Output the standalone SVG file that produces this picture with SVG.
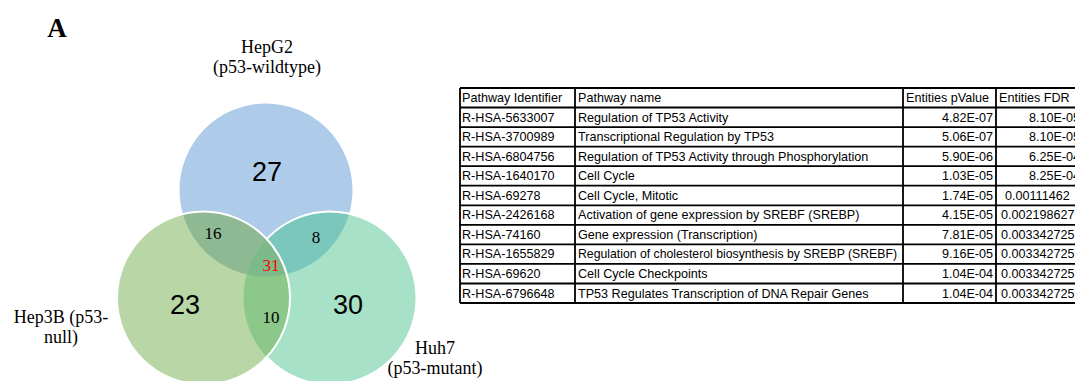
<svg xmlns="http://www.w3.org/2000/svg" width="1075" height="381" viewBox="0 0 1075 381">
<style>
.lbl{font-family:"Liberation Serif","Times New Roman",serif;font-size:18px;fill:#000;text-anchor:middle}
.big{font-family:"Liberation Sans",Arial,sans-serif;font-size:27px;fill:#000;text-anchor:middle}
.sm{font-family:"Liberation Serif","Times New Roman",serif;font-size:17px;fill:#000;text-anchor:middle}
.t{font-family:"Liberation Sans",Arial,sans-serif;font-size:12.6px;fill:#000}
.r{text-anchor:end}
.grid{stroke:#000;stroke-width:1.8;fill:none}
</style>
<defs>
<clipPath id="cB"><circle cx="266" cy="190" r="86.5"/></clipPath>
<clipPath id="cG"><circle cx="203.5" cy="298" r="86.5"/></clipPath>
<mask id="mG"><rect x="0" y="0" width="1075" height="381" fill="#fff"/><circle cx="203.5" cy="298" r="86.5" fill="#000"/></mask>
</defs>
<rect width="1075" height="381" fill="#fff"/>
<text x="57" y="37" style="font-family:'Liberation Serif','Times New Roman',serif;font-size:27px;font-weight:bold;text-anchor:middle">A</text>
<g id="venn">
<circle cx="266" cy="190" r="86.5" fill="#aecce9"/>
<circle cx="330" cy="298" r="86.5" fill="#a6e1c8"/>
<circle cx="203.5" cy="298" r="86.5" fill="#b8d6a6"/>
<g clip-path="url(#cB)"><circle cx="203.5" cy="298" r="86.5" fill="#8fb993"/><circle cx="330" cy="298" r="86.5" fill="#7cc7bc"/></g>
<g clip-path="url(#cG)"><circle cx="330" cy="298" r="86.5" fill="#8cc88a"/></g>
<g clip-path="url(#cG)"><g clip-path="url(#cB)"><circle cx="330" cy="298" r="86.5" fill="#7dba8a"/></g></g>
<circle cx="330" cy="298" r="86.5" fill="none" stroke="#fff" stroke-width="2" mask="url(#mG)"/>
<circle cx="203.5" cy="298" r="86.5" fill="none" stroke="#fff" stroke-width="2"/>
</g>
<g id="venn-counts">
<text class="big" x="267" y="181">27</text>
<text class="big" x="185" y="314">23</text>
<text class="big" x="348" y="314">30</text>
<text class="sm" x="213" y="239">16</text>
<text class="sm" x="316" y="243">8</text>
<text class="sm" x="271" y="271" style="fill:#ff0000">31</text>
<text class="sm" x="271" y="323">10</text>
</g>
<g id="label-hepg2"><text class="lbl" x="267" y="53">HepG2</text><text class="lbl" x="267" y="73">(p53-wildtype)</text></g>
<g id="label-hep3b"><text class="lbl" x="61" y="323">Hep3B (p53-</text><text class="lbl" x="61" y="343">null)</text></g>
<g id="label-huh7"><text class="lbl" x="435" y="354">Huh7</text><text class="lbl" x="435" y="374">(p53-mutant)</text></g>
<g id="table">
<path class="grid" d="M460 88H1090M460 107.5H1090M460 127.1H1090M460 146.6H1090M460 166.2H1090M460 185.7H1090M460 205.3H1090M460 224.8H1090M460 244.4H1090M460 263.9H1090M460 283.5H1090M460 303H1090M460 88V303M575 88V303M903 88V303M996 88V303"/>
<g class="t">
<text x="462" y="102">Pathway Identifier</text><text x="578" y="102">Pathway name</text><text x="906" y="102">Entities pValue</text><text x="999" y="102">Entities FDR</text>
<text x="462" y="121.6">R-HSA-5633007</text><text x="578" y="121.6">Regulation of TP53 Activity</text><text class="r" x="993" y="121.6">4.82E-07</text><text class="r" x="1080" y="121.6">8.10E-05</text>
<text x="462" y="141.1">R-HSA-3700989</text><text x="578" y="141.1">Transcriptional Regulation by TP53</text><text class="r" x="993" y="141.1">5.06E-07</text><text class="r" x="1080" y="141.1">8.10E-05</text>
<text x="462" y="160.7">R-HSA-6804756</text><text x="578" y="160.7">Regulation of TP53 Activity through Phosphorylation</text><text class="r" x="993" y="160.7">5.90E-06</text><text class="r" x="1080" y="160.7">6.25E-04</text>
<text x="462" y="180.2">R-HSA-1640170</text><text x="578" y="180.2">Cell Cycle</text><text class="r" x="993" y="180.2">1.03E-05</text><text class="r" x="1080" y="180.2">8.25E-04</text>
<text x="462" y="199.8">R-HSA-69278</text><text x="578" y="199.8">Cell Cycle, Mitotic</text><text class="r" x="993" y="199.8">1.74E-05</text><text x="1005" y="199.8">0.00111462</text>
<text x="462" y="219.3">R-HSA-2426168</text><text x="578" y="219.3">Activation of gene expression by SREBF (SREBP)</text><text class="r" x="993" y="219.3">4.15E-05</text><text x="1001" y="219.3">0.002198627</text>
<text x="462" y="238.9">R-HSA-74160</text><text x="578" y="238.9">Gene expression (Transcription)</text><text class="r" x="993" y="238.9">7.81E-05</text><text x="1001" y="238.9">0.003342725</text>
<text x="462" y="258.4">R-HSA-1655829</text><text x="578" y="258.4" textLength="319" lengthAdjust="spacingAndGlyphs">Regulation of cholesterol biosynthesis by SREBP (SREBF)</text><text class="r" x="993" y="258.4">9.16E-05</text><text x="1001" y="258.4">0.003342725</text>
<text x="462" y="278">R-HSA-69620</text><text x="578" y="278">Cell Cycle Checkpoints</text><text class="r" x="993" y="278">1.04E-04</text><text x="1001" y="278">0.003342725</text>
<text x="462" y="297.5">R-HSA-6796648</text><text x="578" y="297.5">TP53 Regulates Transcription of DNA Repair Genes</text><text class="r" x="993" y="297.5">1.04E-04</text><text x="1001" y="297.5">0.003342725</text>
</g>
</g>
</svg>
